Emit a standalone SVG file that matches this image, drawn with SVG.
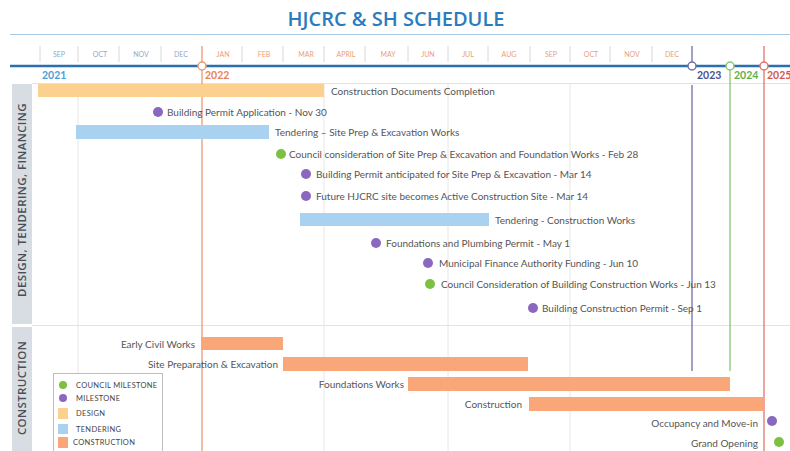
<svg xmlns="http://www.w3.org/2000/svg" width="790" height="451" viewBox="0 0 790 451">
<style>
.t{font-family:Lato,"Open Sans","Liberation Sans",sans-serif;font-size:10px;fill:#555}
.m{font-family:Lato,"Open Sans","Liberation Sans",sans-serif;font-size:7px}
.m1{fill:#93a9c6}.m2{fill:#e9a07a}
.y{font-family:Lato,"Open Sans","Liberation Sans",sans-serif;font-size:10.5px;font-weight:bold}
.grid{stroke:#e6e6e6;stroke-width:1}
.tick{stroke:#d8d8d8;stroke-width:1}
.sec{font-family:"Open Sans",Lato,"Liberation Sans",sans-serif;font-size:11.5px;fill:#4a4f55;font-weight:600;letter-spacing:0.4px}
.lg{font-family:Lato,"Open Sans","Liberation Sans",sans-serif;font-size:7.5px;fill:#444;letter-spacing:0.3px}
.des{fill:#fcd18f}.ten{fill:#a9d1f0}.con{fill:#f9a779}
.ms{fill:#8a68bf}.cm{fill:#7cc142}
</style>
<rect width="790" height="451" fill="#fff"/>
<g id="title">
<text x="396" y="26" text-anchor="middle" font-family="'Open Sans',Lato,'Liberation Sans',sans-serif" font-size="20" font-weight="600" fill="#2a7cbf">HJCRC &amp; SH SCHEDULE</text>
<line x1="10" y1="34.5" x2="790" y2="34.5" stroke="#a9cbe8" stroke-width="1.2"/>
</g>
<g id="grid">
<line class="tick" x1="40" y1="46" x2="40" y2="62"/>
<line class="tick" x1="78" y1="46" x2="78" y2="62"/>
<line class="tick" x1="119" y1="46" x2="119" y2="62"/>
<line class="tick" x1="161" y1="46" x2="161" y2="62"/>
<line class="tick" x1="242" y1="46" x2="242" y2="62"/>
<line class="tick" x1="283" y1="46" x2="283" y2="62"/>
<line class="tick" x1="324" y1="46" x2="324" y2="62"/>
<line class="tick" x1="365" y1="46" x2="365" y2="62"/>
<line class="tick" x1="408" y1="46" x2="408" y2="62"/>
<line class="tick" x1="448" y1="46" x2="448" y2="62"/>
<line class="tick" x1="488" y1="46" x2="488" y2="62"/>
<line class="tick" x1="530" y1="46" x2="530" y2="62"/>
<line class="tick" x1="570" y1="46" x2="570" y2="62"/>
<line class="tick" x1="610" y1="46" x2="610" y2="62"/>
<line class="tick" x1="652" y1="46" x2="652" y2="62"/>
<line class="grid" x1="78" y1="84" x2="78" y2="451"/>
<line class="grid" x1="324" y1="84" x2="324" y2="451"/>
<line class="grid" x1="448" y1="84" x2="448" y2="451"/>
<line class="grid" x1="570" y1="84" x2="570" y2="451"/>
<line x1="32" y1="83.5" x2="790" y2="83.5" stroke="#e3e3e3"/>
<line x1="32" y1="325.5" x2="790" y2="325.5" stroke="#e3e3e3"/>
<text class="m m1" x="59" y="57" text-anchor="middle">SEP</text>
<text class="m m1" x="100" y="57" text-anchor="middle">OCT</text>
<text class="m m1" x="141" y="57" text-anchor="middle">NOV</text>
<text class="m m1" x="181" y="57" text-anchor="middle">DEC</text>
<text class="m m2" x="223" y="57" text-anchor="middle">JAN</text>
<text class="m m2" x="264" y="57" text-anchor="middle">FEB</text>
<text class="m m2" x="306" y="57" text-anchor="middle">MAR</text>
<text class="m m2" x="346" y="57" text-anchor="middle">APRIL</text>
<text class="m m2" x="388" y="57" text-anchor="middle">MAY</text>
<text class="m m2" x="428" y="57" text-anchor="middle">JUN</text>
<text class="m m2" x="468" y="57" text-anchor="middle">JUL</text>
<text class="m m2" x="509" y="57" text-anchor="middle">AUG</text>
<text class="m m2" x="551" y="57" text-anchor="middle">SEP</text>
<text class="m m2" x="591" y="57" text-anchor="middle">OCT</text>
<text class="m m2" x="632" y="57" text-anchor="middle">NOV</text>
<text class="m m2" x="672" y="57" text-anchor="middle">DEC</text>
</g>
<g id="year-lines">
<line x1="202" y1="46" x2="202" y2="451" stroke="#ec9a74" stroke-width="1.3"/>
<line x1="692" y1="46" x2="692" y2="66" stroke="#6e6fa6" stroke-width="1.3"/>
<line x1="692" y1="85" x2="692" y2="371" stroke="#6e6fa6" stroke-width="1.3"/>
<line x1="730" y1="66" x2="730" y2="371" stroke="#86c777" stroke-width="1.3"/>
<line x1="764" y1="46" x2="764" y2="451" stroke="#df7768" stroke-width="1.3"/>
</g>
<g id="timeline">
<line x1="10" y1="66" x2="790" y2="66" stroke="#2b6fb0" stroke-width="2.5"/>
<circle cx="202" cy="66" r="4" fill="#fff" stroke="#ec9a74" stroke-width="1.5"/>
<circle cx="692" cy="66" r="4" fill="#fff" stroke="#6e6fa6" stroke-width="1.5"/>
<circle cx="730" cy="66" r="4" fill="#fff" stroke="#86c777" stroke-width="1.5"/>
<circle cx="764" cy="66" r="4" fill="#fff" stroke="#df7768" stroke-width="1.5"/>
<text class="y" x="42" y="79" fill="#4a9fd8">2021</text>
<text class="y" x="205" y="79" fill="#e8834f">2022</text>
<text class="y" x="697" y="79" fill="#4f4f8c">2023</text>
<text class="y" x="734" y="79" fill="#5fae4e">2024</text>
<text class="y" x="767" y="79" fill="#d5584a">2025</text>
</g>
<g id="sections">
<rect x="12" y="84" width="20" height="240" fill="#d8dde3"/>
<rect x="12" y="327" width="20" height="124" fill="#d8dde3"/>
<text class="sec" transform="translate(26,200) rotate(-90)" text-anchor="middle">DESIGN, TENDERING, FINANCING</text>
<text class="sec" transform="translate(26,388) rotate(-90)" text-anchor="middle">CONSTRUCTION</text>
</g>
<g id="design">
<rect class="des" x="38" y="84" width="286" height="13"/>
<text class="t" x="331" y="95">Construction Documents Completion</text>
</g>
<g id="bp-app"><circle class="ms" cx="158" cy="112" r="5"/><text class="t" x="167" y="115.5">Building Permit Application - Nov 30</text></g>
<g id="tender-site"><rect class="ten" x="76" y="125" width="193" height="14"/><text class="t" x="275" y="136">Tendering – Site Prep &amp; Excavation Works</text></g>
<g id="council-feb"><circle class="cm" cx="281" cy="154" r="5"/><text class="t" x="289" y="157.5">Council consideration of Site Prep &amp; Excavation and Foundation Works - Feb 28</text></g>
<g id="bp-mar"><circle class="ms" cx="306" cy="174" r="5"/><text class="t" x="316" y="177.5">Building Permit anticipated for Site Prep &amp; Excavation - Mar 14</text></g>
<g id="site-active"><circle class="ms" cx="306" cy="196" r="5"/><text class="t" x="316" y="199.5">Future HJCRC site becomes Active Construction Site - Mar 14</text></g>
<g id="tender-con"><rect class="ten" x="300" y="213" width="189" height="13"/><text class="t" x="495" y="223.5">Tendering - Construction Works</text></g>
<g id="found-permit"><circle class="ms" cx="376" cy="243" r="5"/><text class="t" x="386" y="246.5">Foundations and Plumbing Permit - May 1</text></g>
<g id="mfa"><circle class="ms" cx="428" cy="263" r="5"/><text class="t" x="439" y="266.5">Municipal Finance Authority Funding - Jun 10</text></g>
<g id="council-jun"><circle class="cm" cx="430" cy="284" r="5"/><text class="t" x="441" y="287.5">Council Consideration of Building Construction Works - Jun 13</text></g>
<g id="bcp"><circle class="ms" cx="533" cy="308" r="5"/><text class="t" x="542" y="311.5">Building Construction Permit - Sep 1</text></g>
<g id="early-civil"><rect class="con" x="201" y="337" width="82" height="13"/><text class="t" x="195" y="347.5" text-anchor="end">Early Civil Works</text></g>
<g id="site-prep"><rect class="con" x="283" y="357" width="245" height="14"/><text class="t" x="278" y="367.5" text-anchor="end">Site Preparation &amp; Excavation</text></g>
<g id="foundations"><rect class="con" x="408" y="377" width="322" height="14"/><text class="t" x="404" y="387.5" text-anchor="end">Foundations Works</text></g>
<g id="construction"><rect class="con" x="529" y="397" width="235" height="14"/><text class="t" x="522" y="407.5" text-anchor="end">Construction</text></g>
<g id="occupancy"><circle class="ms" cx="772" cy="421" r="5"/><text class="t" x="758" y="427" text-anchor="end">Occupancy and Move-in</text></g>
<g id="opening"><circle class="cm" cx="779" cy="442" r="5"/><text class="t" x="758" y="446.5" text-anchor="end">Grand Opening</text></g>
<g id="legend">
<rect x="53.5" y="373.5" width="109" height="80" fill="#fff" stroke="#bdbdbd"/>
<circle class="cm" cx="63" cy="385" r="4"/><text class="lg" x="76" y="387.5">COUNCIL MILESTONE</text>
<circle class="ms" cx="63" cy="398" r="4"/><text class="lg" x="76" y="400.5">MILESTONE</text>
<rect class="des" x="58" y="408" width="10" height="11"/><text class="lg" x="76" y="416">DESIGN</text>
<rect class="ten" x="58" y="424" width="10" height="10"/><text class="lg" x="76" y="432">TENDERING</text>
<rect class="con" x="58" y="437" width="10" height="11"/><text class="lg" x="73" y="445">CONSTRUCTION</text>
</g>
</svg>
